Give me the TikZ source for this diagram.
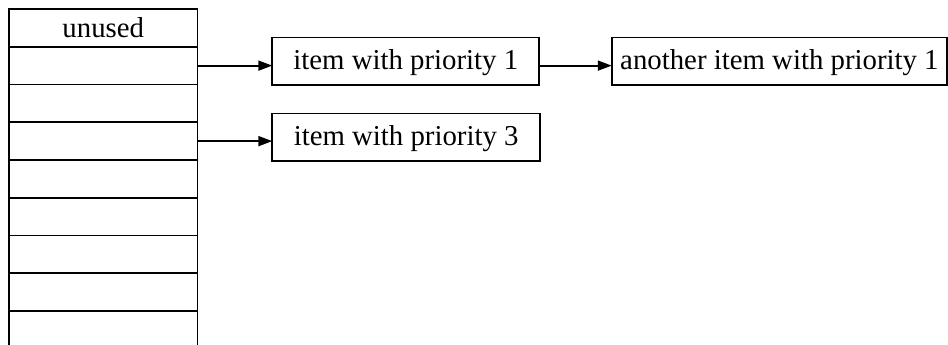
\documentclass[tikz,border=0pt]{standalone}
\usepackage{fontspec}
\setmainfont{Liberation Serif}
\usetikzlibrary{arrows.meta}
\begin{document}
\begin{tikzpicture}[x=1pt,y=-1pt, line width=1.8pt,
  txt/.style={font=\fontsize{28.8}{34}\selectfont},
  cell/.style={draw, rectangle, minimum width=188.5pt, minimum height=37.75pt, inner sep=0pt, outer sep=0pt, txt},
  itembox/.style={draw, rectangle, minimum height=47.5pt, inner sep=0pt, outer sep=0pt, txt, text height=22pt, text depth=6pt},
  link/.style={-{Triangle[length=14pt,width=10pt]}}]
\path[use as bounding box] (0,0) rectangle (948,345);
\clip (0,0) rectangle (948,345);
\node[cell] (r0) at (103.25, 27.875) {unused};
\foreach \i in {1,...,8} \node[cell] (r\i) at (103.25, 27.875+37.75*\i) {};
\node[itembox, minimum width=267pt] (b1) at (405.8, 61.2) {item with priority 1};
\node[itembox, minimum width=335.3pt] (b2) at (779.4, 61.2) {another item with priority 1};
\node[itembox, minimum width=267.7pt] (b3) at (406.15, 137.2) {item with priority 3};
\draw[link] (r1.east) -- (r1.east -| b1.west);
\draw[link] (b1.east |- r1.east) -- (b2.west |- r1.east);
\draw[link] (r3.east) -- (r3.east -| b3.west);
\end{tikzpicture}
\end{document}
